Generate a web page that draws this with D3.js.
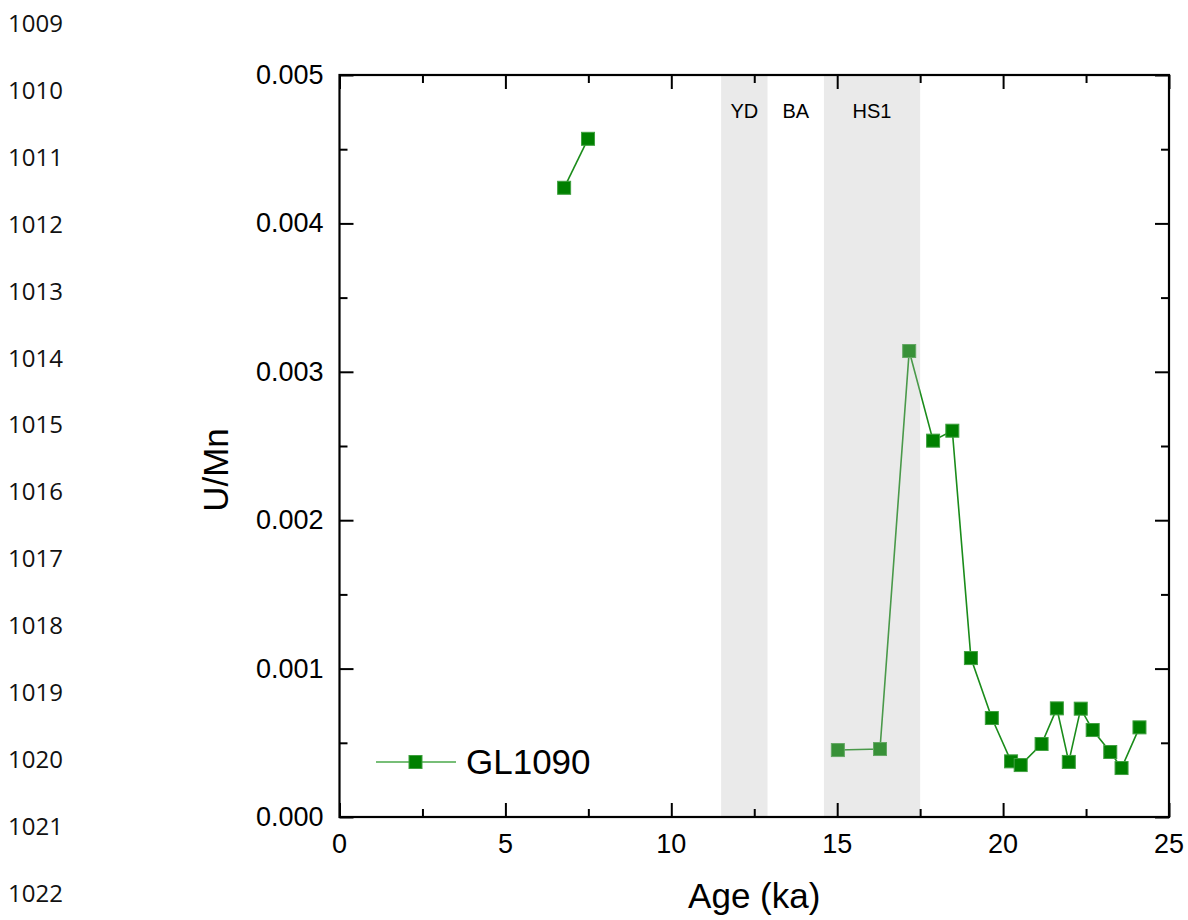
<!DOCTYPE html>
<html>
<head>
<meta charset="utf-8">
<script src="https://cdn.jsdelivr.net/npm/d3@7"></script>
<style>
  body { margin: 0; background: #fff; }
  svg { display: block; }
  text { font-family: "Liberation Sans", Arial, sans-serif; fill: #000; }
  .lineno { font-family: "Open Sans", "Noto Sans", sans-serif; font-size: 24px; fill: #111; }
  .axis path, .axis line { stroke: #000; stroke-width: 2; }
  .tick-label { font-size: 27px; }
</style>
</head>
<body>
<svg id="main-chart" width="1188" height="920"></svg>
<script>
// manuscript line numbers on the page margin
var lineNumbers = [1009, 1010, 1011, 1012, 1013, 1014, 1015, 1016, 1017, 1018, 1019, 1020, 1021, 1022];

// GL1090 U/Mn record, two separate runs (gap between them)
var agesA = [6.77, 7.49];
var valuesA = [0.00424, 0.00457];
var agesB = [15.02, 16.29, 17.17, 17.89, 18.47, 19.03, 19.66, 20.24, 20.53, 21.16,
             21.62, 21.98, 22.34, 22.70, 23.23, 23.57, 24.11];
var valuesB = [0.000451, 0.000458, 0.00314, 0.002536, 0.002603, 0.001071, 0.000667, 0.000375, 0.00035, 0.000492,
               0.000732, 0.000371, 0.00073, 0.000586, 0.000438, 0.00033, 0.000604];

// climate intervals
var intervals = [
  { name: "YD", start: 11.5, end: 12.9, shaded: true },
  { name: "BA", start: 12.9, end: 14.6, shaded: false },
  { name: "HS1", start: 14.6, end: 17.5, shaded: true }
];

var xTicks = [0, 5, 10, 15, 20, 25];
var yTicks = [0, 0.001, 0.002, 0.003, 0.004, 0.005];

var margins = { top: 75, right: 19, bottom: 103, left: 339.5 };
var width = 1188, height = 920;
var chartWidth = width - margins.left - margins.right;
var chartHeight = height - margins.top - margins.bottom;

var svg = d3.select("#main-chart");

svg.append("g")
  .selectAll("text")
  .data(lineNumbers)
  .enter()
  .append("text")
  .attr("class", "lineno")
  .attr("x", 8)
  .attr("y", (d, i) => 32 + i * 66.9)
  .text(d => d);

var chartElement = svg.append("g")
  .attr("transform", `translate(${margins.left},${margins.top})`);

var xScale = d3.scaleLinear().domain([0, 25]).range([0, chartWidth]);
var yScale = d3.scaleLinear().domain([0, 0.005]).range([chartHeight, 0]);

var green = "#008000";

// series lines
var line = d3.line()
  .x(d => xScale(d[0]))
  .y(d => yScale(d[1]));

[[agesA, valuesA], [agesB, valuesB]].forEach(function (s) {
  var pts = s[0].map((a, i) => [a, s[1][i]]);
  chartElement.append("path")
    .datum(pts)
    .attr("d", line)
    .attr("fill", "none")
    .attr("stroke", "#1a8c1a")
    .attr("stroke-width", 1.6);
  chartElement.append("g")
    .selectAll("rect")
    .data(pts)
    .enter()
    .append("rect")
    .attr("x", d => xScale(d[0]) - 6.5)
    .attr("y", d => yScale(d[1]) - 6.5)
    .attr("width", 13)
    .attr("height", 13)
    .attr("fill", green)
    .attr("stroke", "#3fa03f")
    .attr("stroke-width", 1);
});

// shaded intervals drawn over the data (translucent)
chartElement.append("g")
  .selectAll("rect")
  .data(intervals.filter(d => d.shaded))
  .enter()
  .append("rect")
  .attr("x", d => xScale(d.start))
  .attr("width", d => xScale(d.end) - xScale(d.start))
  .attr("y", 0)
  .attr("height", chartHeight)
  .attr("fill", "#bbbbbb")
  .attr("fill-opacity", 0.3);

chartElement.append("g")
  .selectAll("text")
  .data(intervals)
  .enter()
  .append("text")
  .attr("x", d => xScale((d.start + d.end) / 2))
  .attr("y", 43)
  .attr("text-anchor", "middle")
  .attr("font-size", "20px")
  .text(d => d.name);

// axes: ticks inside on all four sides
var xMinor = d3.range(0, 25.01, 2.5).filter(v => v % 5 !== 0);
var yMinor = d3.range(0.0005, 0.005, 0.001);

function drawAxis(axisGen, transform) {
  return chartElement.append("g")
    .attr("class", "axis")
    .attr("transform", transform)
    .call(axisGen)
    .call(g => g.select(".domain").remove());
}

drawAxis(d3.axisBottom(xScale).tickValues(xTicks).tickSize(-14).tickFormat(""), `translate(0,${chartHeight})`);
drawAxis(d3.axisBottom(xScale).tickValues(xMinor).tickSize(-8).tickFormat(""), `translate(0,${chartHeight})`);
drawAxis(d3.axisTop(xScale).tickValues(xTicks).tickSize(-14).tickFormat(""), "translate(0,0)");
drawAxis(d3.axisTop(xScale).tickValues(xMinor).tickSize(-8).tickFormat(""), "translate(0,0)");
drawAxis(d3.axisLeft(yScale).tickValues(yTicks).tickSize(-14).tickFormat(""), "translate(0,0)");
drawAxis(d3.axisLeft(yScale).tickValues(yMinor).tickSize(-8).tickFormat(""), "translate(0,0)");
drawAxis(d3.axisRight(yScale).tickValues(yTicks).tickSize(-14).tickFormat(""), `translate(${chartWidth},0)`);
drawAxis(d3.axisRight(yScale).tickValues(yMinor).tickSize(-8).tickFormat(""), `translate(${chartWidth},0)`);

// frame
chartElement.append("rect")
  .attr("x", 0)
  .attr("y", 0)
  .attr("width", chartWidth)
  .attr("height", chartHeight)
  .attr("fill", "none")
  .attr("stroke", "#000")
  .attr("stroke-width", 2.2);

// tick labels
chartElement.append("g")
  .selectAll("text")
  .data(xTicks)
  .enter()
  .append("text")
  .attr("class", "tick-label")
  .attr("x", d => xScale(d))
  .attr("y", chartHeight + 36)
  .attr("text-anchor", "middle")
  .text(d => d);

chartElement.append("g")
  .selectAll("text")
  .data(yTicks)
  .enter()
  .append("text")
  .attr("class", "tick-label")
  .attr("x", -16)
  .attr("y", d => yScale(d) + 9)
  .attr("text-anchor", "end")
  .text(d => d3.format(".3f")(d));

// axis titles
svg.append("text")
  .attr("x", margins.left + chartWidth / 2)
  .attr("y", 908)
  .attr("text-anchor", "middle")
  .attr("font-size", "35px")
  .text("Age (ka)");

svg.append("text")
  .attr("transform", "translate(228,470) rotate(-90)")
  .attr("text-anchor", "middle")
  .attr("font-size", "35px")
  .text("U/Mn");

// legend
var legend = svg.append("g").attr("transform", "translate(376,762)");
legend.append("line")
  .attr("x1", 0).attr("x2", 80)
  .attr("y1", 0).attr("y2", 0)
  .attr("stroke", "#4aa84a")
  .attr("stroke-width", 1.4);
legend.append("rect")
  .attr("x", 39.5 - 6.5).attr("y", -6.5)
  .attr("width", 13).attr("height", 13)
  .attr("fill", green)
  .attr("stroke", "#3fa03f");
legend.append("text")
  .attr("x", 90)
  .attr("y", 12)
  .attr("font-size", "35px")
  .text("GL1090");
</script>
</body>
</html>
